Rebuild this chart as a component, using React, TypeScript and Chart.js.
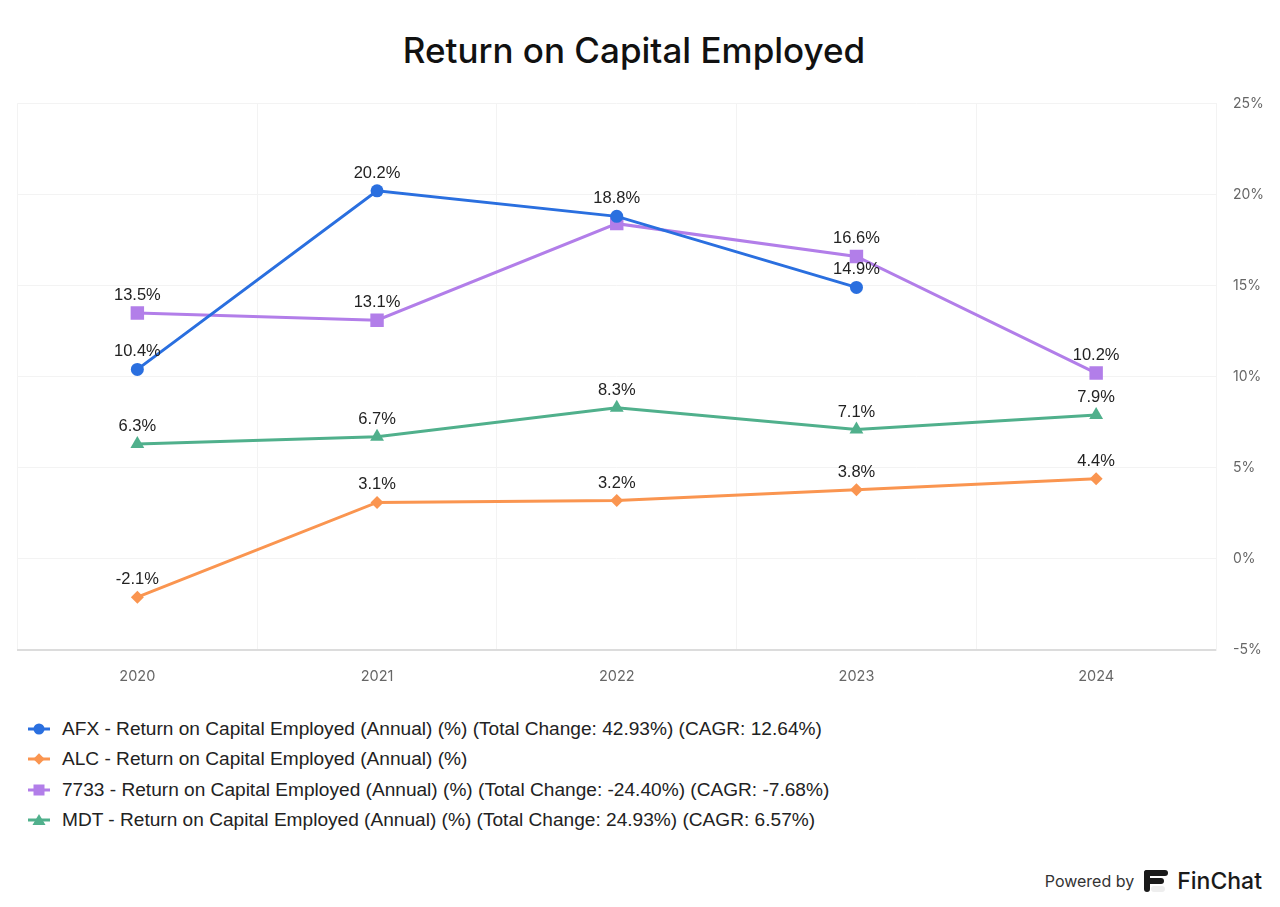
import React, { useEffect, useRef } from "react";
import { Chart, registerables } from "chart.js";

Chart.register(...registerables);

const years = ["2020", "2021", "2022", "2023", "2024"];
const afx = [10.4, 20.2, 18.8, 14.9, null];
const alc = [-2.1, 3.1, 3.2, 3.8, 4.4];
const s7733 = [13.5, 13.1, 18.4, 16.6, 10.2];
const mdt = [6.3, 6.7, 8.3, 7.1, 7.9];

const seriesNames = [
  "AFX - Return on Capital Employed (Annual) (%) (Total Change: 42.93%) (CAGR: 12.64%)",
  "ALC - Return on Capital Employed (Annual) (%)",
  "7733 - Return on Capital Employed (Annual) (%) (Total Change: -24.40%) (CAGR: -7.68%)",
  "MDT - Return on Capital Employed (Annual) (%) (Total Change: 24.93%) (CAGR: 6.57%)",
];
const colors = ["#2a6fdf", "#fa9550", "#b27ee9", "#50b08c"];
const pointStyles = ["circle", "rectRot", "rect", "triangle"];
const pointRadii = [6.5, 6.5, 9.5, 8];
const yTicks = [-5, 0, 5, 10, 15, 20, 25];

const labelPlugin = {
  id: "valueLabels",
  afterDatasetsDraw(chart: any) {
    const ctx = chart.ctx;
    ctx.save();
    ctx.font = "16.5px 'Liberation Sans', Arial, sans-serif";
    ctx.fillStyle = "#222";
    ctx.textAlign = "center";
    ctx.textBaseline = "middle";
    const rects: { x1: number; y1: number; x2: number; y2: number }[] = [];
    chart.data.datasets.forEach((ds: any, di: number) => {
      const meta = chart.getDatasetMeta(di);
      meta.data.forEach((pt: any, i: number) => {
        const v = ds.data[i];
        if (v === null || v === undefined) return;
        const txt = v.toFixed(1) + "%";
        const w = ctx.measureText(txt).width;
        const cx = pt.x;
        const cy = pt.y - 17.5;
        const r = { x1: cx - w / 2, y1: cy - 8, x2: cx + w / 2, y2: cy + 8 };
        const hit = rects.some(
          (o) => r.x1 < o.x2 && r.x2 > o.x1 && r.y1 < o.y2 && r.y2 > o.y1
        );
        if (hit) return;
        rects.push(r);
        ctx.fillText(txt, cx, cy);
      });
    });
    ctx.restore();
  },
};

function Marker({ idx }: { idx: number }) {
  const c = colors[idx];
  let shape: React.ReactNode = null;
  if (idx === 0) shape = <circle cx={11} cy={8} r={5.5} fill={c} />;
  if (idx === 1) shape = <rect x={7} y={4} width={8} height={8} fill={c} transform="rotate(45 11 8)" />;
  if (idx === 2) shape = <rect x={5.5} y={2.5} width={11} height={11} fill={c} />;
  if (idx === 3) shape = <polygon points="11,2 17.5,13 4.5,13" fill={c} />;
  return (
    <svg width={22} height={16} style={{ display: "block" }}>
      <line x1={0} y1={8} x2={22} y2={8} stroke={c} strokeWidth={3} />
      {shape}
    </svg>
  );
}

export default function App() {
  const ref = useRef<HTMLCanvasElement>(null);
  useEffect(() => {
    if (!ref.current) return;
    const all = [afx, alc, s7733, mdt];
    const chart = new Chart(ref.current, {
      type: "line",
      data: {
        labels: years,
        datasets: all.map((d, i) => ({
          label: seriesNames[i],
          data: d as any,
          borderColor: colors[i],
          backgroundColor: colors[i],
          borderWidth: 3,
          pointStyle: pointStyles[i] as any,
          pointRadius: pointRadii[i],
          pointBorderWidth: 0,
          tension: 0,
          spanGaps: false,
        })),
      },
      options: {
        responsive: false,
        animation: false,
        layout: { padding: { left: 8, top: 2, right: 0, bottom: 0 } },
        plugins: { legend: { display: false }, title: { display: false }, tooltip: { enabled: false } },
        scales: {
          x: {
            offset: true,
            grid: { offset: true, color: "#f3f3f3", drawTicks: false },
            border: { color: "#dcdcdc", width: 2 },
            ticks: { color: "#666", font: { family: "Inter", size: 14.5 }, padding: 18 },
            afterFit: (s: any) => { s.height = 50; },
          },
          y: {
            position: "right",
            min: -5,
            max: 25,
            afterBuildTicks: (s: any) => { s.ticks = yTicks.map((v) => ({ value: v })); },
            grid: { color: "#f3f3f3", drawTicks: false },
            border: { color: "#f3f3f3" },
            ticks: {
              color: "#666",
              font: { family: "Inter", size: 14 },
              padding: 17,
              callback: (v: any) => v + "%",
            },
            afterFit: (s: any) => { s.width = 56; },
          },
        },
      },
      plugins: [labelPlugin],
    });
    return () => chart.destroy();
  }, []);

  return (
    <div style={{ position: "relative", width: 1264, height: 891, background: "#fff", overflow: "hidden" }}>
      <div
        style={{
          position: "absolute", left: 0, top: 22, width: 1252, height: 40, lineHeight: "40px",
          textAlign: "center", fontFamily: "Inter, sans-serif", fontWeight: 500, fontSize: 35, color: "#111",
        }}
      >
        Return on Capital Employed
      </div>
      <canvas ref={ref} width={1264} height={622} style={{ position: "absolute", left: 0, top: 70, width: 1264, height: 622 }} />
      <div style={{ position: "absolute", left: 20, top: 706 }}>
        {seriesNames.map((n, i) => (
          <div key={i} style={{ display: "flex", alignItems: "center", height: 30.3 }}>
            <Marker idx={i} />
            <span style={{ marginLeft: 12, fontFamily: "'Liberation Sans', Arial, sans-serif", fontSize: 19.1, color: "#222", whiteSpace: "nowrap" }}>
              {n}
            </span>
          </div>
        ))}
      </div>
      <div
        style={{
          position: "absolute", right: 10, top: 858, height: 30, display: "flex", alignItems: "center",
          fontFamily: "Inter, sans-serif", color: "#222",
        }}
      >
        <span style={{ fontSize: 16, color: "#333" }}>Powered by</span>
        <svg width={26} height={26} viewBox="0 0 26 26" style={{ marginLeft: 9, marginRight: 8 }}>
          <rect x={1} y={2} width={24} height={6} rx={3} fill="#1a1a1a" />
          <rect x={1} y={10} width={20} height={6} rx={3} fill="#1a1a1a" />
          <rect x={1} y={2} width={6} height={22} rx={3} fill="#1a1a1a" />
          <rect x={8} y={18} width={14} height={6} rx={3} fill="#eee" />
        </svg>
        <span style={{ fontSize: 23, fontWeight: 500, color: "#1a1a1a" }}>FinChat</span>
      </div>
    </div>
  );
}
